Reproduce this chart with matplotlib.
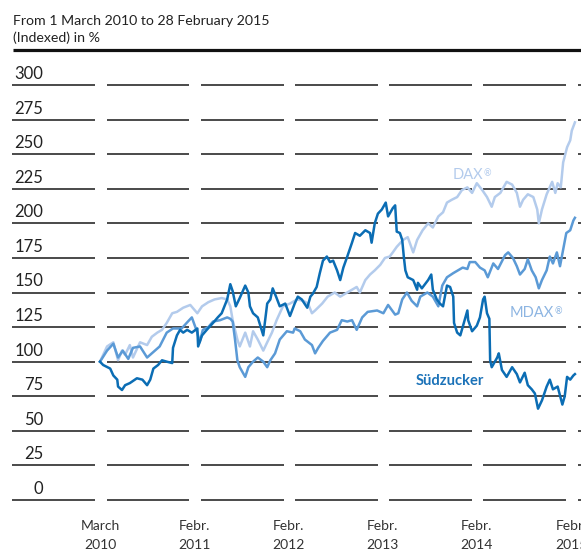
import matplotlib
matplotlib.use("Agg")
import matplotlib.pyplot as plt

plt.rcParams['font.family'] = ['Lato', 'DejaVu Sans']

# months since 1 March 2010, index values (1 March 2010 = 100)
sz_months = [0.0, 0.4, 1.3, 1.7, 2.2, 2.3, 2.8, 3.2, 3.8, 4.7, 5.4, 6.0, 6.4, 6.8, 7.4, 7.9,
             8.5, 9.2, 9.3, 9.8, 10.2, 10.6, 11.1, 11.7, 12.4, 12.5, 13.0, 13.6, 14.4, 15.0,
             15.5, 16.2, 16.6, 16.9, 17.3, 17.8, 18.5, 18.9, 19.1, 19.5, 20.1, 20.8, 21.3,
             21.7, 22.0, 22.5, 22.9, 23.6, 24.2, 24.8, 25.2, 25.7, 26.4, 26.8, 27.1, 27.6,
             28.0, 28.4, 28.9, 29.3, 29.7, 30.2, 30.6, 31.0, 31.5, 32.1, 32.5, 33.1, 33.8,
             34.4, 34.6, 35.0, 35.4, 35.9, 36.4, 36.7, 37.3, 37.6, 37.8, 38.2, 38.5, 38.7,
             38.9, 39.2, 39.9, 40.4, 40.5, 41.0, 41.4, 41.8, 42.2, 42.4, 42.9, 43.3, 43.7,
             44.2, 44.6, 45.0, 45.1, 45.5, 45.9, 46.2, 46.8, 46.9, 47.4, 48.0, 48.4, 48.8,
             49.0, 49.3, 49.6, 49.7, 49.9, 50.6, 50.8, 51.2, 51.8, 52.5, 53.1, 53.5, 54.1,
             54.5, 55.0, 55.4, 55.8, 56.3, 56.9, 57.3, 57.7, 58.3, 58.9, 59.2, 59.5, 59.9,
             60.3, 60.5]
sz_values = [100, 97.6, 95, 90, 87, 82, 79.5, 83, 84.5, 88, 87, 83, 87, 95, 97.6, 101,
             100, 99, 110, 119, 123, 121, 123, 121, 124, 111, 119, 123, 128, 132,
             135, 145, 156, 151, 140, 146, 155, 150, 140, 135, 132, 119, 142,
             145, 153, 146, 140, 142, 133, 142, 147, 145, 139, 147, 149, 154,
             164, 173, 176, 172, 173, 166, 159, 168, 176, 186, 193, 191, 195,
             193, 186, 200, 207, 210, 215, 205, 211, 213, 194, 193, 188, 176,
             166, 161, 159, 152, 157, 153, 156, 159, 163, 152, 145, 142, 140,
             155, 154, 147, 128, 121, 119, 125, 137, 130, 122, 126, 132, 145,
             147, 135, 131, 101, 96, 103, 106, 94, 89, 96, 91, 85, 92,
             83, 80, 77, 66, 72, 82, 87, 80, 82, 69, 75, 89, 87,
             90, 91]

mdax_months = [0.0, 0.9, 1.7, 2.3, 2.9, 3.6, 4.2, 5.1, 6.0, 6.8, 7.6, 8.5, 9.3, 10.4, 11.2,
               11.7, 12.4, 12.7, 13.1, 13.8, 14.4, 15.3, 16.2, 16.6, 16.9, 17.2, 17.5, 17.8,
               18.5, 18.9, 19.5, 20.1, 20.8, 21.3, 21.7, 22.3, 22.9, 23.8, 24.6, 24.8, 25.5,
               26.1, 27.0, 27.4, 27.8, 28.4, 29.3, 30.2, 30.8, 31.5, 32.1, 32.7, 33.4, 34.1,
               35.3, 36.1, 36.7, 37.6, 38.0, 38.5, 39.1, 39.7, 40.4, 40.8, 41.7, 42.4, 43.1,
               43.6, 44.2, 45.0, 45.6, 46.2, 46.8, 47.1, 47.8, 48.4, 49.0, 49.4, 50.1, 50.7,
               51.6, 52.0, 52.6, 53.1, 53.5, 54.1, 54.5, 55.0, 55.5, 55.9, 56.3, 56.9, 57.3,
               57.7, 58.2, 58.6, 59.0, 59.4, 59.9, 60.3, 60.5]
mdax_values = [100, 108, 113, 103, 108, 102, 110, 111, 103, 107, 111, 121, 124, 124, 129,
               132, 121, 114, 123, 125, 129, 130, 132, 131, 129, 116, 101, 96,
               89, 96, 100, 103, 100, 96, 101, 106, 116, 122, 121, 124, 122,
               116, 112, 106, 110, 115, 121, 123, 130, 129, 130, 123, 132, 136,
               137, 135, 141, 134, 135, 145, 150, 144, 140, 147, 150, 147, 140,
               155, 161, 164, 166, 168, 167, 172, 172, 168, 166, 161, 171, 167,
               177, 179, 175, 169, 163, 167, 174, 166, 161, 153, 159, 166, 176,
               171, 179, 169, 181, 193, 195, 202, 204]

dax_months = [0.0, 0.9, 1.7, 2.3, 2.8, 3.2, 3.8, 4.2, 5.1, 6.0, 6.6, 7.3, 7.9, 8.5, 9.2,
              9.8, 10.6, 11.5, 12.4, 13.0, 13.8, 14.6, 15.5, 16.2, 16.6, 16.9, 17.5, 17.8,
              18.5, 19.1, 19.5, 20.1, 20.8, 21.3, 21.9, 22.5, 23.3, 24.2, 25.1, 25.9, 26.5,
              27.0, 27.4, 28.3, 29.0, 29.9, 30.6, 31.5, 32.1, 32.7, 33.1, 33.8, 34.4, 35.0,
              35.7, 36.3, 36.9, 37.3, 37.8, 38.6, 39.2, 39.9, 40.4, 41.1, 41.8, 42.4, 43.1,
              43.7, 44.2, 44.8, 45.5, 46.1, 46.8, 47.4, 48.0, 48.7, 49.3, 49.9, 50.3, 51.0,
              51.8, 52.5, 53.1, 53.5, 53.9, 54.5, 55.2, 55.7, 55.9, 56.3, 56.9, 57.6, 58.0,
              58.3, 58.7, 59.0, 59.5, 59.9, 60.1, 60.5]
dax_values = [100, 111, 114, 101, 108, 105, 112, 103, 114, 112, 118, 121, 123, 128, 135,
              136, 139, 141, 135, 140, 143, 145, 146, 145, 140, 130, 116, 111,
              121, 111, 122, 116, 108, 114, 121, 130, 140, 142, 145, 144, 142,
              135, 137, 142, 147, 150, 147, 150, 152, 154, 150, 159, 163, 166,
              170, 175, 176, 179, 183, 188, 190, 179, 188, 195, 200, 197, 205,
              208, 215, 217, 219, 224, 226, 222, 229, 224, 219, 212, 219, 222,
              230, 228, 222, 212, 217, 221, 219, 210, 200, 210, 221, 230, 222,
              229, 226, 244, 255, 260, 267, 273]

y_ticks = [0, 25, 50, 75, 100, 125, 150, 175, 200, 225, 250, 275, 300]
x_ticks = [0, 12, 24, 36, 48, 60]
x_labels = [("March", "2010"), ("Febr.", "2011"), ("Febr.", "2012"),
            ("Febr.", "2013"), ("Febr.", "2014"), ("Febr.", "2015")]

C_SZ = '#0b6db4'
C_MDAX = '#5b9ad6'
C_DAX = '#b3cbec'
GRID = '#3c3c3c'
TEXT = '#222222'

W, H = 581, 552
fig = plt.figure(figsize=(W / 100, H / 100), dpi=100)
ax = fig.add_axes([0, 0, 1, 1])
ax.axis('off')

# pixel geometry of the plot area
px_per_month = 94.2 / 12
px_per_unit = 415 / 300
x0_px, y0_px = 100, 500
ax.set_xlim(-x0_px / px_per_month, (W - x0_px) / px_per_month)
ax.set_ylim(-(H - y0_px) / px_per_unit, y0_px / px_per_unit)

def mx(px):
    return (px - x0_px) / px_per_month

def vy(px):
    return (y0_px - px) / px_per_unit

# broken horizontal gridlines
for v in y_ticks:
    for k in range(-1, 6):
        ax.plot([12 * k + 0.85, 12 * (k + 1) - 0.6], [v, v], color=GRID, lw=1.3,
                solid_capstyle='butt', zorder=1, clip_on=False)
    ax.text(mx(43), v + 6 / px_per_unit, str(v), ha='right', va='baseline',
            fontsize=12, color=TEXT)

# thick rule under the heading
ax.plot([mx(13), mx(W + 5)], [vy(50.5), vy(50.5)], color='#111111', lw=2.3,
        solid_capstyle='butt', clip_on=False)

fig.text(13 / W, 1 - 25 / H, "From 1 March 2010 to 28 February 2015", fontsize=10.2,
         color=TEXT, va='baseline')
fig.text(13 / W, 1 - 42 / H, "(Indexed) in %", fontsize=10.2, color=TEXT, va='baseline')

for m, (l1, l2) in zip(x_ticks, x_labels):
    ax.text(m, vy(530), l1, ha='center', va='baseline', fontsize=10, color='#333333')
    ax.text(m, vy(549), l2, ha='center', va='baseline', fontsize=10, color='#333333')

ax.plot(dax_months, dax_values, color=C_DAX, lw=1.8, zorder=3)
ax.plot(mdax_months, mdax_values, color=C_MDAX, lw=1.8, zorder=4)
ax.plot(sz_months, sz_values, color=C_SZ, lw=1.8, zorder=5)

def label(px, py, name, color, **kw):
    t = ax.text(mx(px), vy(py), name, color=color, fontsize=10.5, va='baseline', **kw)
    ax.annotate("®", xy=(1, 0.95), xycoords=t, color=color, fontsize=6.5,
                ha='left', va='top')

label(453, 179, "DAX", C_DAX)
label(510, 317, "MDAX", '#8db5e2')
ax.text(mx(416), vy(385), "Südzucker", color='#1b72b8', fontsize=10.5,
        fontweight='bold', va='baseline')

fig.savefig("out.png", dpi=100)
